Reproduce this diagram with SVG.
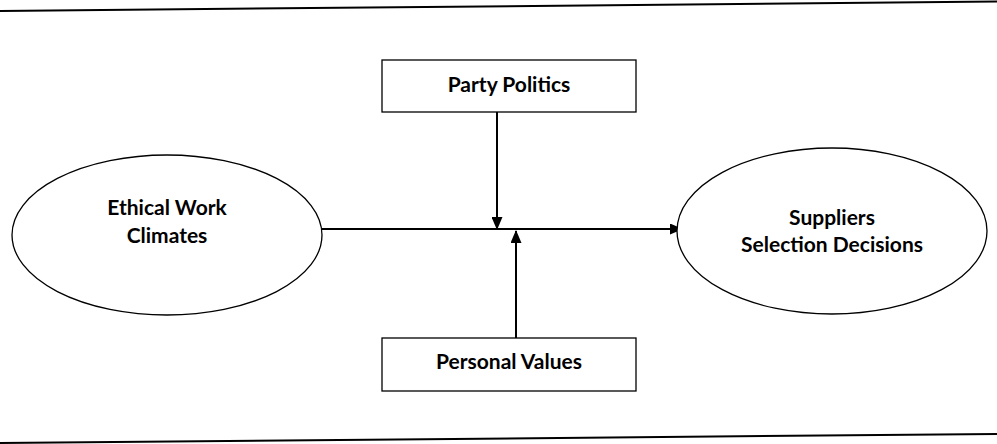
<svg xmlns="http://www.w3.org/2000/svg" width="997" height="444" viewBox="0 0 997 444">
<style>
.t{font-family:Lato,"Open Sans","Liberation Sans",sans-serif;font-weight:bold;font-size:21px;fill:#000;text-anchor:middle}
.n{fill:#fff;stroke:#000;stroke-width:1.3}
.c{stroke:#000;stroke-width:2;fill:none}
</style>
<defs>
<marker id="ah" markerWidth="13" markerHeight="11" refX="12" refY="5.5" orient="auto" markerUnits="userSpaceOnUse">
<path d="M0,0 L13,5.5 L0,11 Z" fill="#000"/>
</marker>
</defs>
<rect width="997" height="444" fill="#fff"/>
<line x1="0" y1="11" x2="997" y2="1.5" stroke="#000" stroke-width="2"/>
<line x1="0" y1="443" x2="997" y2="434" stroke="#000" stroke-width="2"/>
<g id="connectors">
<line class="c" x1="322" y1="229" x2="682" y2="229" marker-end="url(#ah)"/>
<line class="c" x1="497" y1="112" x2="497" y2="229" marker-end="url(#ah)"/>
<line class="c" x1="516" y1="338" x2="516" y2="231" marker-end="url(#ah)"/>
</g>
<g id="ethical">
<ellipse class="n" cx="167" cy="235" rx="155" ry="80"/>
<text class="t" x="167" y="215">Ethical Work</text>
<text class="t" x="167" y="243">Climates</text>
</g>
<g id="suppliers">
<ellipse class="n" cx="832" cy="231" rx="155" ry="83"/>
<text class="t" x="832" y="225">Suppliers</text>
<text class="t" x="832" y="252">Selection Decisions</text>
</g>
<g id="party">
<rect class="n" x="382" y="60" width="254" height="52"/>
<text class="t" x="509" y="92">Party Politics</text>
</g>
<g id="personal">
<rect class="n" x="382" y="338" width="254" height="53"/>
<text class="t" x="509" y="369">Personal Values</text>
</g>
</svg>
